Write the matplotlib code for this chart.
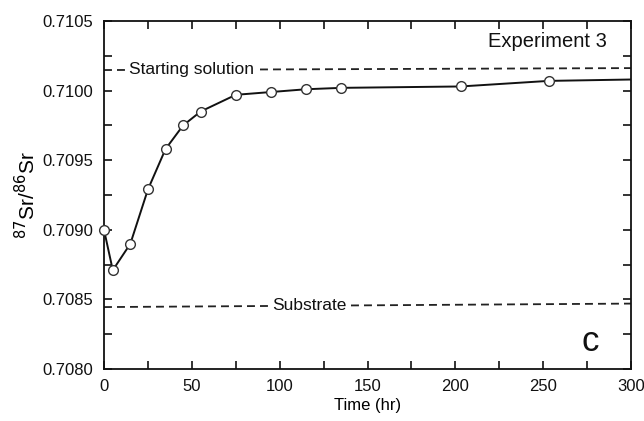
import matplotlib
matplotlib.use("Agg")
import matplotlib.pyplot as plt
from matplotlib.ticker import MultipleLocator

time_hr = [0, 5, 15, 25, 35, 45, 55, 75, 95, 115, 135, 203, 253]
sr_ratio = [0.70900, 0.70871, 0.70890, 0.70929, 0.70958, 0.70975, 0.70985,
            0.70997, 0.70999, 0.71001, 0.71002, 0.71003, 0.71007]
line_end_time = 300
line_end_value = 0.71008

start_x = [0, 300]
start_y = [0.710148, 0.710162]
sub_x = [0, 300]
sub_y = [0.708445, 0.708470]

plt.rcParams['font.family'] = ['Liberation Sans', 'DejaVu Sans']

fig = plt.figure(figsize=(6.44, 4.21), dpi=100)
ax = fig.add_axes([0.1615, 0.1235, 0.8185, 0.8265])

ax.plot(start_x, start_y, color='#222222', lw=1.3, dashes=(4.4, 2.8), zorder=1)
ax.plot(sub_x, sub_y, color='#222222', lw=1.3, dashes=(4.4, 2.8), zorder=1)

ax.plot(time_hr + [line_end_time], sr_ratio + [line_end_value], color='#111111', lw=1.4, zorder=2)
ax.plot(time_hr, sr_ratio, ls='none', marker='o', ms=7, mfc='white', mec='#333333',
        mew=1.0, zorder=3, clip_on=False)

ax.text(50, 0.710150, 'Starting solution', ha='center', va='center', fontsize=12.5,
        color='#111111', bbox=dict(facecolor='white', edgecolor='none', pad=1.5), zorder=2)
ax.text(117, 0.708457, 'Substrate', ha='center', va='center', fontsize=12.5,
        color='#111111', bbox=dict(facecolor='white', edgecolor='none', pad=1.5), zorder=2)
ax.text(286, 0.71035, 'Experiment 3', ha='right', va='center', fontsize=14.5, color='#111111')
ax.text(276.5, 0.70820, 'c', ha='center', va='center', fontsize=25, color='#111111')

ax.set_xlim(0, 300)
ax.set_ylim(0.7080, 0.7105)
ax.xaxis.set_major_locator(MultipleLocator(50))
ax.xaxis.set_minor_locator(MultipleLocator(25))
ax.yaxis.set_major_locator(MultipleLocator(0.0005))
ax.yaxis.set_minor_locator(MultipleLocator(0.00025))
ax.yaxis.set_major_formatter(matplotlib.ticker.FormatStrFormatter('%.4f'))
ax.tick_params(which='both', direction='in', top=True, right=True, labelsize=12,
               colors='#111111', width=1.2)
ax.tick_params(which='major', length=6)
ax.tick_params(which='minor', length=6)
ax.tick_params(axis='y', which='major', pad=8)
ax.tick_params(axis='x', which='major', pad=7)
for s in ax.spines.values():
    s.set_linewidth(1.3)
    s.set_color('#111111')

ax.set_xlabel('Time (hr)', fontsize=12, labelpad=3)
ax.set_ylabel('$^{87}$Sr/$^{86}$Sr', fontsize=15, labelpad=2)

fig.savefig('out.png', dpi=100)
